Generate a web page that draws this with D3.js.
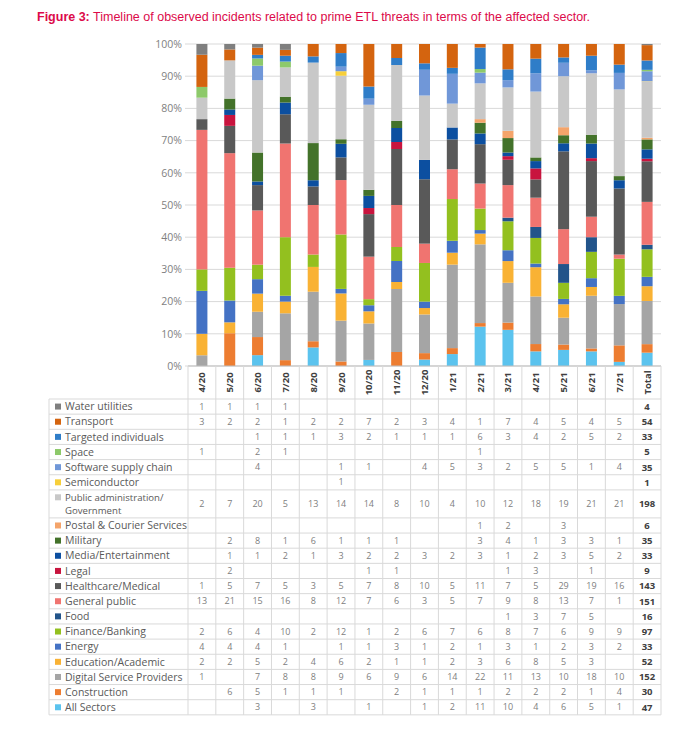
<!DOCTYPE html>
<html>
<head>
<meta charset="utf-8">
<script src="https://cdn.jsdelivr.net/npm/d3@7"></script>
<style>
  body { margin: 0; background: #fff; }
  svg { font-family: "Open Sans", sans-serif; }
</style>
</head>
<body>
<div class="container"></div>
<script>
var width = 679;
var height = 742;

// Columns of the chart / table
var months = ["4/20", "5/20", "6/20", "7/20", "8/20", "9/20", "10/20", "11/20",
  "12/20", "1/21", "2/21", "3/21", "4/21", "5/21", "6/21", "7/21"];
var columns = months.concat(["Total"]);

// Sectors in table order (top to bottom); bars stack in the reverse order
var sectors = ["Water utilities", "Transport", "Targeted individuals", "Space",
  "Software supply chain", "Semiconductor", "Public administration/Government",
  "Postal & Courier Services", "Military", "Media/Entertainment", "Legal",
  "Healthcare/Medical", "General public", "Food", "Finance/Banking", "Energy",
  "Education/Academic", "Digital Service Providers", "Construction", "All Sectors"];

var sectorColors = ["#7f7f7f", "#d4640f", "#2f7dc8", "#8dc96a", "#7097d8", "#f7cf3a",
  "#c8c8c8", "#f4a46a", "#43722a", "#0c4fa0", "#c8143e", "#595959", "#f07470",
  "#22548a", "#93c01f", "#4472c4", "#f9b234", "#a5a5a5", "#ed7d31", "#5bc3ee"];

// Monthly counts per sector (null = empty cell), same order as sectors
var counts = [
  [1, 1, 1, 1, null, null, null, null, null, null, null, null, null, null, null, null],
  [3, 2, 2, 1, 2, 2, 7, 2, 3, 4, 1, 7, 4, 5, 4, 5],
  [null, null, 1, 1, 1, 3, 2, 1, 1, 1, 6, 3, 4, 2, 5, 2],
  [1, null, 2, 1, null, null, null, null, null, null, 1, null, null, null, null, null],
  [null, null, 4, null, null, 1, 1, null, 4, 5, 3, 2, 5, 5, 1, 4],
  [null, null, null, null, null, 1, null, null, null, null, null, null, null, null, null, null],
  [2, 7, 20, 5, 13, 14, 14, 8, 10, 4, 10, 12, 18, 19, 21, 21],
  [null, null, null, null, null, null, null, null, null, null, 1, 2, null, 3, null, null],
  [null, 2, 8, 1, 6, 1, 1, 1, null, null, 3, 4, 1, 3, 3, 1],
  [null, 1, 1, 2, 1, 3, 2, 2, 3, 2, 3, 1, 2, 3, 5, 2],
  [null, 2, null, null, null, null, 1, 1, null, null, null, 1, 3, null, 1, null],
  [1, 5, 7, 5, 3, 5, 7, 8, 10, 5, 11, 7, 5, 29, 19, 16],
  [13, 21, 15, 16, 8, 12, 7, 6, 3, 5, 7, 9, 8, 13, 7, 1],
  [null, null, null, null, null, null, null, null, null, null, null, 1, 3, 7, 5, null],
  [2, 6, 4, 10, 2, 12, 1, 2, 6, 7, 6, 8, 7, 6, 9, 9],
  [4, 4, 4, 1, null, 1, 1, 3, 1, 2, 1, 3, 1, 2, 3, 2],
  [2, 2, 5, 2, 4, 6, 2, 1, 1, 2, 3, 6, 8, 5, 3, null],
  [1, null, 7, 8, 8, 9, 6, 9, 6, 14, 22, 11, 13, 10, 18, 10],
  [null, 6, 5, 1, 1, 1, null, 2, 1, 1, 1, 2, 2, 2, 1, 4],
  [null, null, 3, null, 3, null, 1, null, 1, 2, 11, 10, 4, 6, 5, 1]
];

// Totals column as printed
var totals = [4, 54, 33, 5, 35, 1, 198, 6, 35, 33, 9, 143, 151, 16, 97, 33, 52, 152, 30, 47];

var yTicks = [0, 0.1, 0.2, 0.3, 0.4, 0.5, 0.6, 0.7, 0.8, 0.9, 1];

var plot = { left: 188, right: 661, top: 44, bottom: 366 };
var table = { left: 49, headerBottom: 399, rowH: 15.15, tallRowH: 28 };

var svg = d3.select(".container").append("svg")
  .attr("width", width)
  .attr("height", height);

// Title
var title = svg.append("text")
  .attr("x", 37)
  .attr("y", 21)
  .style("font-family", "'Liberation Sans', Arial, sans-serif")
  .style("font-size", "12.5px")
  .style("fill", "#dc0a4a");
title.append("tspan").style("font-weight", "bold").text("Figure 3:");
title.append("tspan").text(" Timeline of observed incidents related to prime ETL threats in terms of the affected sector.");

// Build rows: one object per column, keyed by sector
var rows = columns.map(function (col, j) {
  var row = { col: col };
  sectors.forEach(function (s, i) {
    var v = col === "Total" ? totals[i] : counts[i][j];
    row[s] = v || 0;
  });
  return row;
});

var stackKeys = sectors.slice().reverse();
var series = d3.stack()
  .keys(stackKeys)
  .offset(d3.stackOffsetExpand)(rows);

var xScale = d3.scaleBand().domain(columns).range([plot.left, plot.right]);
var yScale = d3.scaleLinear().domain([0, 1]).range([plot.bottom, plot.top]);
var barW = 11;

// Gridlines
svg.append("g")
  .selectAll("line")
  .data(yTicks)
  .enter().append("line")
  .attr("x1", plot.left - 3)
  .attr("x2", plot.right)
  .attr("y1", d => yScale(d))
  .attr("y2", d => yScale(d))
  .style("stroke", "#d9d9d9")
  .style("stroke-width", 1);

// Y axis
var axisY = d3.axisLeft(yScale)
  .tickValues(yTicks)
  .tickFormat(d3.format(".0%"))
  .tickSize(0)
  .tickPadding(6);

svg.append("g")
  .attr("transform", "translate(" + plot.left + ",0)")
  .call(axisY)
  .call(g => g.select(".domain").remove())
  .selectAll("text")
  .style("font-family", "'Open Sans', sans-serif")
  .style("font-size", "10.5px")
  .style("fill", "#7f7f7f");

// Bars
svg.append("g")
  .selectAll("g")
  .data(series)
  .enter().append("g")
  .attr("fill", d => sectorColors[sectors.indexOf(d.key)])
  .selectAll("rect")
  .data(d => d)
  .enter().append("rect")
  .attr("x", d => xScale(d.data.col) + (xScale.bandwidth() - barW) / 2)
  .attr("width", barW)
  .attr("y", d => yScale(d[1]))
  .attr("height", d => Math.max(0, yScale(d[0]) - yScale(d[1])));

// ---- Data table ----
var rowTops = [];
var y = table.headerBottom;
sectors.forEach(function (s, i) {
  var h = s.indexOf("Public administration") === 0 ? table.tallRowH : table.rowH;
  rowTops.push({ y: y, h: h });
  y += h;
});
var tableBottom = y;

var grid = svg.append("g").style("stroke", "#d9d9d9").style("stroke-width", 1);

// axis base line
grid.append("line")
  .attr("x1", plot.left).attr("x2", plot.right)
  .attr("y1", plot.bottom).attr("y2", plot.bottom)
  .style("stroke", "#bfbfbf");

// vertical lines for value columns
columns.forEach(function (c, j) {
  grid.append("line")
    .attr("x1", xScale(c)).attr("x2", xScale(c))
    .attr("y1", plot.bottom).attr("y2", tableBottom);
});
grid.append("line")
  .attr("x1", plot.right).attr("x2", plot.right)
  .attr("y1", plot.bottom).attr("y2", tableBottom);
grid.append("line")
  .attr("x1", table.left).attr("x2", table.left)
  .attr("y1", table.headerBottom).attr("y2", tableBottom);

// horizontal lines
rowTops.forEach(function (r) {
  grid.append("line")
    .attr("x1", table.left).attr("x2", plot.right)
    .attr("y1", r.y).attr("y2", r.y);
});
grid.append("line")
  .attr("x1", table.left).attr("x2", plot.right)
  .attr("y1", tableBottom).attr("y2", tableBottom);

// Column headers (rotated)
svg.append("g")
  .selectAll("text")
  .data(columns)
  .enter().append("text")
  .attr("transform", d => "translate(" + (xScale(d) + xScale.bandwidth() / 2 + 3.5) + "," + (plot.bottom + (table.headerBottom - plot.bottom) / 2) + ") rotate(-90)")
  .style("text-anchor", "middle")
  .style("font-family", "'Open Sans', sans-serif")
  .style("font-weight", "bold")
  .style("font-size", "9.5px")
  .style("fill", "#404040")
  .text(d => d);

// Row labels with colour keys
var labels = svg.append("g");
sectors.forEach(function (s, i) {
  var r = rowTops[i];
  var cy = r.y + r.h / 2;
  var wrapped = s.indexOf("Public administration") === 0;
  var lines = wrapped ? ["Public administration/", "Government"] : [s];
  var lineGap = 13.2;
  var firstY = cy - (lines.length - 1) * lineGap / 2;

  labels.append("rect")
    .attr("x", 55)
    .attr("y", firstY - 3)
    .attr("width", 6)
    .attr("height", 6)
    .attr("fill", sectorColors[i]);

  lines.forEach(function (t, k) {
    labels.append("text")
      .attr("x", 65)
      .attr("y", firstY + k * lineGap)
      .attr("dy", "0.35em")
      .style("font-family", "'Open Sans', sans-serif")
      .style("font-size", wrapped ? "9.6px" : "10.5px")
      .style("fill", "#595959")
      .text(t);
  });

  // values
  columns.forEach(function (c, j) {
    var v = c === "Total" ? totals[i] : counts[i][j];
    if (v == null) return;
    labels.append("text")
      .attr("x", xScale(c) + xScale.bandwidth() / 2)
      .attr("y", cy)
      .attr("dy", "0.35em")
      .style("text-anchor", "middle")
      .style("font-family", "'Open Sans', sans-serif")
      .style("font-size", c === "Total" ? "9.5px" : "9px")
      .style("font-weight", c === "Total" ? "bold" : "normal")
      .style("fill", c === "Total" ? "#404040" : "#808080")
      .text(v);
  });
});
</script>
</body>
</html>
